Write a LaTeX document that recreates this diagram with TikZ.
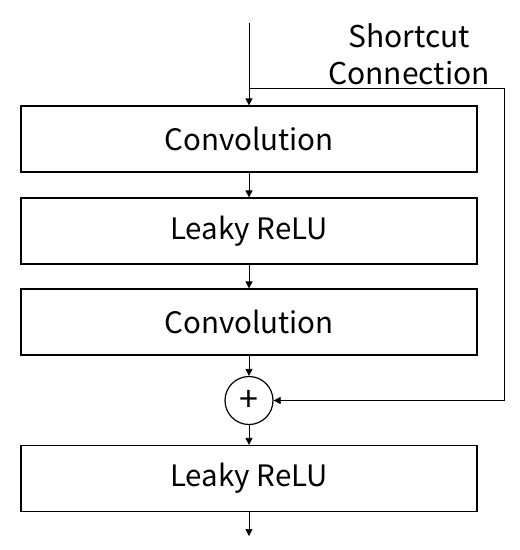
\documentclass[tikz,border=0pt]{standalone}
\usepackage{fontspec}
\setmainfont{Noto Sans CJK JP}
\usetikzlibrary{positioning, arrows.meta}

\begin{document}
\begin{tikzpicture}[
			x=1pt, y=-1pt, node distance=92pt, on grid,
			>={Triangle[length=7pt, width=7pt]},
			layer/.style={draw, line width=1.2pt, minimum width=456pt, minimum height=66pt,
				inner sep=0pt, font=\fontsize{29.5}{34}\selectfont},
			link/.style={->, line width=0.7pt}
			]
			\useasboundingbox (0,0) rectangle (520,550);
			\node[layer] (conv1) at (249,139) {Convolution};
			\node[layer] (relu1) [below=of conv1] {Leaky ReLU};
			\node[layer] (conv2) [below=91pt of relu1] {Convolution};
			\node[circle, draw, line width=1.2pt, minimum size=48pt, inner sep=0pt,
				font=\fontsize{34}{40}\selectfont] (add) [below=78.5pt of conv2] {+};
			\node[layer] (relu2) [below=78pt of add] {Leaky ReLU};
			\coordinate (in) at (249,23);
			\coordinate (split) at (249,88);
			\coordinate (out) at (249,536);
			\coordinate (corner) at (504,88);
			\node[align=center, font=\fontsize{30}{37}\selectfont] (label) at (409,54) {Shortcut\\Connection};
			\draw[link] (in) -- (conv1);
			\draw[link] (conv1) -- (relu1);
			\draw[link] (relu1) -- (conv2);
			\draw[link] (conv2) -- (add);
			\draw[link] (add) -- (relu2);
			\draw[link] (relu2) -- (out);
			\draw[link] (split) -- (corner) |- (add);
		\end{tikzpicture}
\end{document}
